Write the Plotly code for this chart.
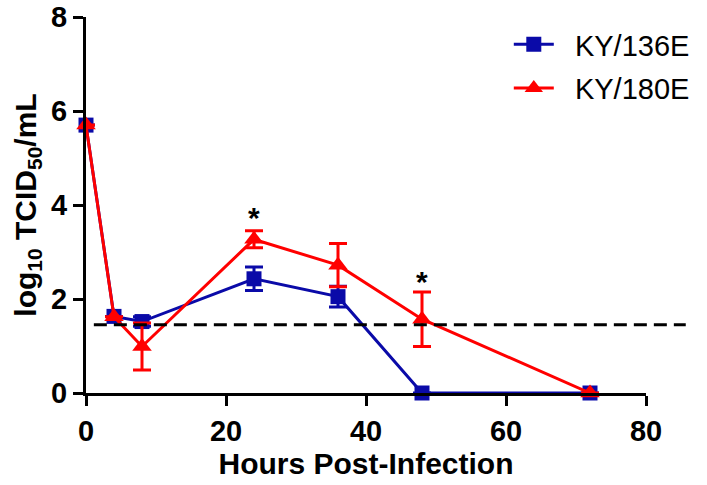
import plotly.graph_objects as go

hours = [0, 4, 8, 24, 36, 48, 72]
ky136_mean = [5.70, 1.63, 1.52, 2.43, 2.05, 0.0, 0.0]
ky136_err = [0.0, 0.0, 0.10, 0.25, 0.22, 0.0, 0.0]
ky180_mean = [5.70, 1.62, 0.99, 3.27, 2.72, 1.57, 0.0]
ky180_err = [0.0, 0.0, 0.50, 0.18, 0.46, 0.58, 0.0]
detection_limit = 1.45
star_x = [24, 48]
star_y = [3.87, 2.50]
series_names = ["KY/136E", "KY/180E"]

fig = go.Figure()
fig.add_trace(go.Scatter(
    x=hours, y=ky136_mean, name="\u00a0\u00a0" + series_names[0], mode="lines+markers", legendgroup="a",
    line=dict(color="#0a0aa8", width=3), cliponaxis=False,
    marker=dict(symbol="square", size=15, color="#0a0aa8"),
    error_y=dict(type="data", array=ky136_err, color="#0a0aa8", thickness=3, width=9),
))
fig.add_trace(go.Scatter(
    x=hours, y=ky180_mean, name="\u00a0\u00a0" + series_names[1], mode="lines+markers", legendgroup="b",
    line=dict(color="#ff0000", width=3), cliponaxis=False,
    marker=dict(symbol="triangle-up", size=17, color="#ff0000"),
    error_y=dict(type="data", array=ky180_err, color="#ff0000", thickness=3, width=9),
))

fig.add_shape(type="line", xref="paper", yref="y", x0=0.014, x1=1.071,
              y0=detection_limit, y1=detection_limit,
              line=dict(color="black", width=3, dash="13px,7px"))

for sx, sy in zip(star_x, star_y):
    fig.add_annotation(x=sx, y=sy, text="*", showarrow=False, yanchor="middle", yshift=-6,
                       font=dict(family="Liberation Sans", size=30, color="black", weight="bold"))

tickfont = dict(family="Liberation Sans", size=29, color="black", weight="bold")
titlefont = dict(family="Liberation Sans", size=30, color="black", weight="bold")

fig.update_layout(
    width=707, height=485,
    margin=dict(l=86, r=59, t=17, b=92),
    plot_bgcolor="white", paper_bgcolor="white",
    showlegend=True,
    legend=dict(x=0.755, y=0.995, xanchor="left", yanchor="top",
                font=dict(family="Liberation Sans", size=29, color="black"),
                itemwidth=40, tracegroupgap=3, bgcolor="rgba(0,0,0,0)"),
    xaxis=dict(range=[0, 80], tickvals=[0, 20, 40, 60, 80], showgrid=False, zeroline=False,
               showline=True, linecolor="black", linewidth=3, automargin=False,
               ticks="outside", ticklen=10, tickwidth=3, tickcolor="black",
               tickfont=tickfont,
               title=dict(text="Hours Post-Infection", font=titlefont, standoff=6)),
    yaxis=dict(range=[0, 8], tickvals=[0, 2, 4, 6, 8], showgrid=False, zeroline=False,
               showline=True, linecolor="black", linewidth=3, automargin=False,
               ticks="outside", ticklen=10, tickwidth=3, tickcolor="black",
               tickfont=tickfont,
               title=dict(text="log<sub>10</sub> TCID<sub>50</sub>/mL", font=titlefont, standoff=6)),
)

fig.write_html("out.html", config={"displayModeBar": False},
               post_script="document.body.style.margin='0';document.body.style.overflow='hidden';")
